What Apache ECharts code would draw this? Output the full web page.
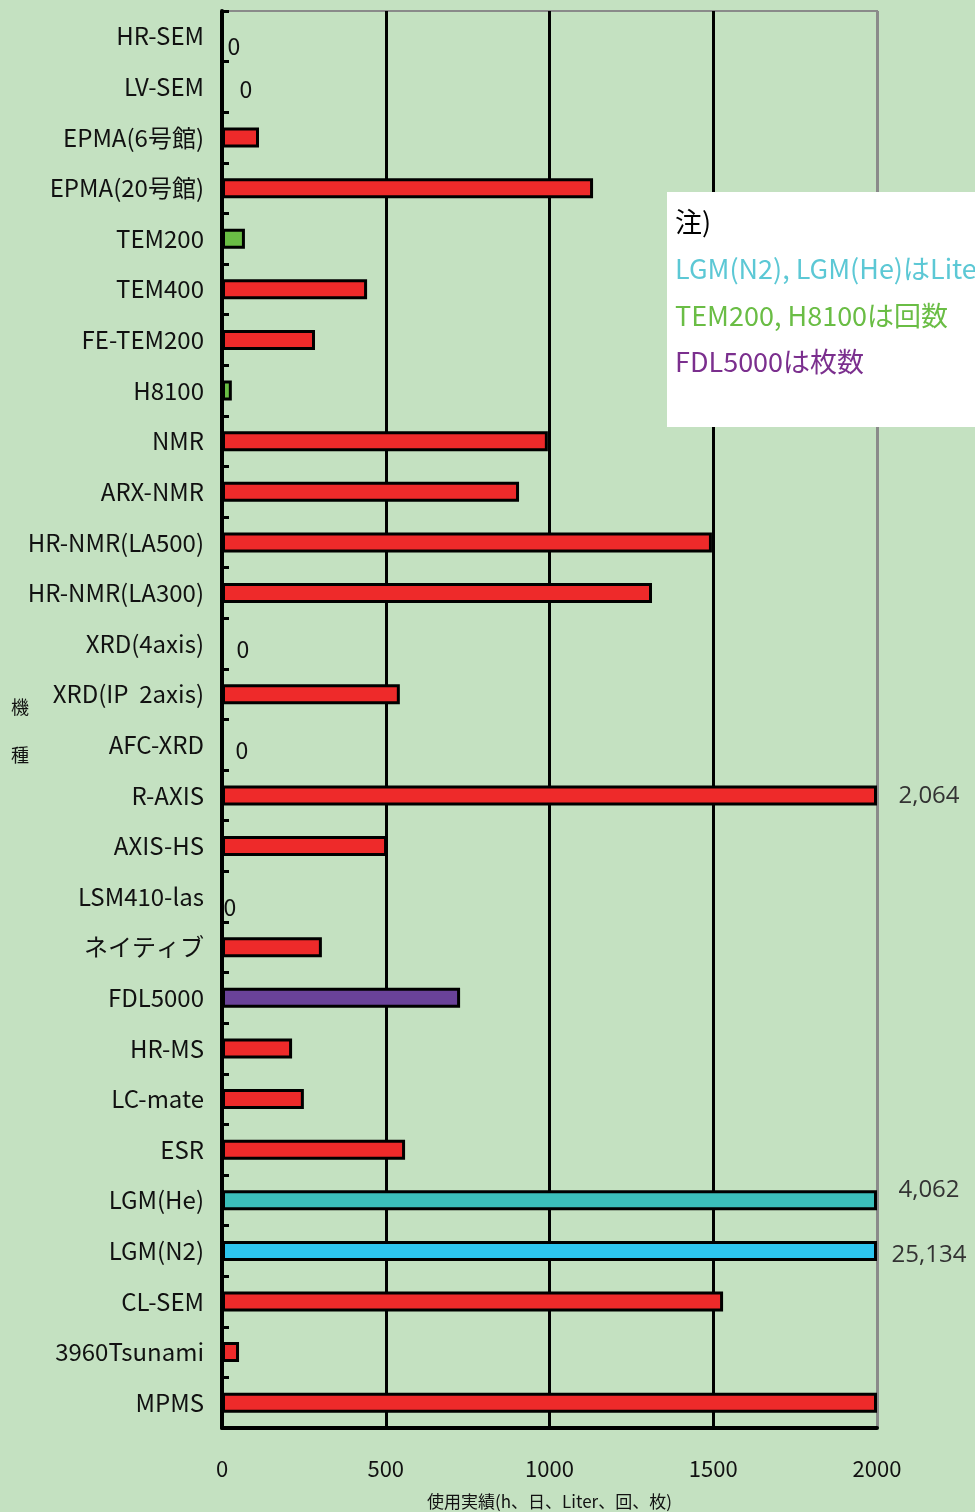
<!DOCTYPE html>
<html>
<head>
<meta charset="utf-8">
<script src="https://cdn.jsdelivr.net/npm/echarts@6/dist/echarts.min.js"></script>
<style>
html, body { margin: 0; padding: 0; background: #c4e1c1; }
#main { width: 975px; height: 1512px; }
</style>
</head>
<body>
<div id="main"></div>
<script>
// 機種
var categories = ['HR-SEM', 'LV-SEM', 'EPMA(6号館)', 'EPMA(20号館)', 'TEM200', 'TEM400', 'FE-TEM200',
    'H8100', 'NMR', 'ARX-NMR', 'HR-NMR(LA500)', 'HR-NMR(LA300)', 'XRD(4axis)', 'XRD(IP  2axis)',
    'AFC-XRD', 'R-AXIS', 'AXIS-HS', 'LSM410-las', 'ネイティブ', 'FDL5000', 'HR-MS', 'LC-mate', 'ESR',
    'LGM(He)', 'LGM(N2)', 'CL-SEM', '3960Tsunami', 'MPMS'];
// 使用実績
var values = [0, 0, 113, 1133, 70, 443, 284,
    30, 995, 907, 1496, 1313, 0, 543,
    0, 2064, 504, 0, 305, 727, 214, 250, 559,
    4062, 25134, 1530, 52, 2000];
var xTicks = [0, 500, 1000, 1500, 2000];
var xMax = 2000;
var noteLines = ['注)', 'LGM(N2), LGM(He)はLiter', 'TEM200, H8100は回数', 'FDL5000は枚数'];

(function(){
    var chart = echarts.init(document.getElementById('main'));
    var font = '"Noto Sans CJK JP", "Noto Sans", sans-serif';

    function colorOf(name) {
        if (name === 'TEM200' || name === 'H8100') return '#6abd45';
        if (name === 'FDL5000') return '#6a4299';
        if (name === 'LGM(He)') return '#3bbfbb';
        if (name === 'LGM(N2)') return '#2dc5ef';
        return '#ee2a2a';
    }
    // label nudges, as placed in the original sheet
    var labelShift = {
        'HR-SEM': [-4, 10], 'LV-SEM': [8, 2], 'XRD(4axis)': [5, 6],
        'AFC-XRD': [4, 5], 'LSM410-las': [-8, 11],
        'R-AXIS': [0, 1], 'LGM(He)': [0, -10], 'LGM(N2)': [0, 4]
    };

    var data = values.map(function (v, i) {
        var name = categories[i];
        var item = {
            value: Math.min(v, xMax),
            real: v,
            itemStyle: { color: colorOf(name) }
        };
        if (v === 0) {
            item.label = { show: true, formatter: '0', distance: 8, offset: labelShift[name] || [0, 4],
                fontSize: 23, color: '#111', fontFamily: font };
        } else if (v > xMax) {
            item.label = { show: true, distance: 52, align: 'center', offset: labelShift[name] || [0, 0],
                fontSize: 24, color: '#333', fontFamily: '"Open Sans", sans-serif',
                formatter: function (p) { return p.data.real.toLocaleString('en-US'); } };
        }
        return item;
    });

    var option = {
        backgroundColor: '#c4e1c1',
        animation: false,
        grid: {
            left: 222, right: 98, top: 11, bottom: 84,
            containLabel: false, outerBoundsMode: 'none',
            show: true, borderColor: '#8a8a8a', borderWidth: 2
        },
        xAxis: {
            type: 'value',
            min: 0, max: xMax, interval: 500,
            name: '使用実績(h、日、Liter、回、枚)',
            nameLocation: 'middle', nameGap: 65,
            nameTextStyle: { fontSize: 17, color: '#111', fontFamily: font },
            axisLine: { show: true, lineStyle: { color: '#000', width: 4 } },
            axisTick: { show: false },
            axisLabel: { margin: 30, fontSize: 22, color: '#111', fontFamily: font,
                formatter: function (v) { return xTicks.indexOf(v) >= 0 ? String(v) : ''; } },
            splitLine: { show: true, lineStyle: { color: ['#000', '#000', '#000', '#000', '#8a8a8a'], width: 3 } }
        },
        yAxis: {
            type: 'category',
            inverse: true,
            data: categories,
            name: '\n機\n\n種',
            nameLocation: 'middle', nameGap: 193, nameRotate: 0, nameMoveOverlap: false,
            nameTextStyle: { fontSize: 18, color: '#111', fontFamily: font, lineHeight: 24 },
            axisLine: { show: true, lineStyle: { color: '#000', width: 4 } },
            axisTick: { show: true, inside: true, length: 7, lineStyle: { color: '#000', width: 3 } },
            axisLabel: { margin: 18, fontSize: 24, color: '#111', fontFamily: font }
        },
        series: [{
            type: 'bar',
            barWidth: 20,
            data: data,
            itemStyle: { borderColor: '#000', borderWidth: 3 },
            label: { show: false, position: 'right' }
        }],
        graphic: [{
            type: 'group',
            left: 667, top: 192, z: 100,
            children: [
                { type: 'rect', z: 100, shape: { x: 0, y: 0, width: 320, height: 235 },
                  style: { fill: '#fff' } },
                { type: 'text', z: 101, x: 8, y: 16,
                  style: { text: noteLines[0], fill: '#000', fontSize: 27, fontFamily: font } },
                { type: 'text', z: 101, x: 8, y: 63,
                  style: { text: noteLines[1], fill: '#5cc8d5', fontSize: 27, fontFamily: font } },
                { type: 'text', z: 101, x: 8, y: 110,
                  style: { text: noteLines[2], fill: '#6abd45', fontSize: 27, fontFamily: font } },
                { type: 'text', z: 101, x: 8, y: 156,
                  style: { text: noteLines[3], fill: '#7b2f8e', fontSize: 27, fontFamily: font } }
            ]
        }]
    };

    chart.setOption(option);
})();
</script>
</body>
</html>
